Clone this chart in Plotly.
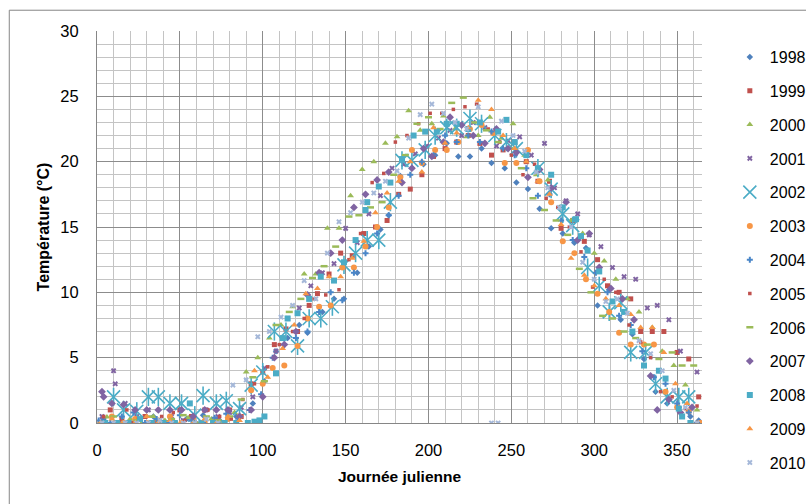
import plotly.graph_objects as go

# ---- data (Julian day, temperature °C) ----
years = ["1998", "1999", "2000", "2001", "2002", "2003", "2004",
         "2005", "2006", "2007", "2008", "2009", "2010"]

days_1998 = [4,14,24,34,44,54,64,74,84,94,101,108,115,122,127,136,143,149,157,164,171,176,183,190,197,204,211,218,225,232,238,246,253,260,267,274,281,288,295,302,309,316,323,330,337,344,351,358,363]
temp_1998 = [0.3,0,0.2,0.5,0,0.3,0.6,0.2,0.5,1.5,3.2,5.5,6.5,7.5,6.9,8.5,9.5,9.5,11.5,13.5,14.8,15.9,18.9,19.5,19.8,20.5,21.4,20.4,20.4,21,19.9,19.5,18.4,17.9,16.4,14.9,14.5,13.8,13.4,9,10.2,7.9,6.8,4.9,2.4,1.5,1.2,0.5,0.2]

days_1999 = [8,15,22,29,36,43,50,57,65,72,80,87,93,100,107,114,121,128,133,140,147,154,161,168,175,182,189,196,203,210,217,224,231,238,245,252,259,266,273,280,287,294,302,308,315,322,328,335,342,350,357,363]
temp_1999 = [1,0.3,0,0.5,0.2,0,1,0.5,1,0.3,1,0.5,3,3.9,6,7.2,7,9,9.9,11.4,13,12.8,14.5,15,15.5,17.5,17.9,19,20.4,21,21.5,22,21.4,20.5,20.9,21.5,20,18.5,18.5,14.9,15.5,13.9,12.5,10.5,10,9.5,7,7,7,5.4,4.9,2]

days_2000 = [6,13,20,27,34,41,48,55,62,69,76,83,90,97,104,111,118,125,132,139,146,153,160,167,174,181,188,195,202,209,216,223,230,237,244,251,258,265,272,279,286,293,300,306,313,320,327,335,341,348,355,362]
temp_2000 = [0.45,0,0.3,0,0.5,0.2,0,0.4,0,0.3,0,0.8,3.9,5,6.5,7.5,8.9,11.4,11.4,14.9,14.9,17.4,19.4,20,21.4,21.9,23.9,22.4,22.9,23.5,22.5,21.9,22,23.4,21.8,22.9,20.5,19,18.6,16.5,15.5,14.5,13,12.4,11,9.5,8.5,7.3,5.5,4.4,2.9,1]

days_2001 = [3,10,11,17,24,31,38,45,52,59,66,73,80,87,94,101,108,115,122,129,136,143,150,157,164,171,178,185,192,199,206,213,220,227,234,241,248,255,262,270,276,283,290,297,304,311,318,325,332,338,345,352,362]
temp_2001 = [0.5,4,3,1.5,0.5,1,0,0.5,0.2,0,1,0.5,0.8,1.2,2,4.2,5.5,8,8.8,10.5,11.5,12.2,14.9,13.8,16,17.4,19.5,19.8,20.6,21.2,21.8,22.4,22,23,22.6,21.2,21.6,21.9,20.5,21.4,18,17,16,14.4,13.5,11.9,11.2,11,8.8,9,7.9,5.5,3.9]

days_2002 = [10,16,24,31,37,44,51,59,64,72,78,86,93,100,107,114,121,128,135,142,149,156,163,170,177,184,190,198,204,211,217,225,232,240,247,253,266,274,281,287,296,303,309,316,322,331,337,344,351,357]
temp_2002 = [2,1,0.9,2,2,1.5,1.5,0.6,2.1,1.5,1.7,1.1,2.9,3.9,7,7,5.9,8,8,8.9,12.1,13,14,14,16.9,20.1,20.1,20.9,22,22.6,22.6,23.3,22.9,22,21.5,21,19.5,17.9,16,15.1,11.9,10.5,8.5,9.2,5.4,5.4,3,2,2,2]

days_2003 = [2,9,16,23,30,37,44,51,58,65,72,79,86,93,100,106,113,121,127,134,141,148,155,162,169,176,183,190,196,204,211,218,225,232,239,246,253,260,267,274,281,288,295,302,309,315,322,330,336,343,350,357,364]
temp_2003 = [0,0.5,0,0.3,0,0.2,0.5,0,0.4,0.1,0,0.3,0.5,2.5,3,4.2,4.4,5.9,8,8.9,9,11.9,11.9,13.5,15,16.5,18.8,20.9,19.9,20.9,20.9,21.5,22.5,22.8,22.2,19.9,19.9,20.9,18.5,16.9,13.9,13,11,9.9,8.5,6.9,6,6,6,2.4,1.2,0.9,0]

days_2004 = [1,8,15,22,29,36,43,50,57,64,71,78,85,92,99,106,113,120,127,134,141,148,155,162,169,176,182,189,196,203,210,217,224,231,238,245,252,259,266,273,280,287,294,301,308,315,322,329,336,343,350,357,362]
temp_2004 = [0.2,0,0.5,0.8,0,0.3,0,0.6,0.2,0,0.4,0.7,0.2,1,2.2,5,6,6.5,7,8.5,10,9.4,11.5,13,14.5,15.9,17.4,19,20,20.5,22,21.5,22,21.5,22.3,21,20.5,19.5,17.4,17.5,15.5,14,12.7,11.5,10,8.2,7.5,5.5,3.5,3,1.5,0.8,0]

days_2005 = [4,11,18,25,32,39,46,53,60,67,74,81,88,95,103,110,118,125,131,138,146,152,159,166,173,180,187,194,201,208,215,222,229,236,243,250,257,264,271,278,285,292,299,306,313,321,328,334,340,347,355,362]
temp_2005 = [0.5,0,1,0.3,0,0.5,0.8,0.2,0,1,0.5,0.3,1.8,3,4.3,6,7,8,9.5,9.8,10.2,12.5,14.5,18.4,19.1,21.5,22,22.9,23.7,23.7,24,24.2,24.4,22.5,21.5,20.5,19,19.8,17.2,16.5,15,13.1,10.4,11,10,7.5,6.2,5,2.4,2,1.1,1.3]

days_2006 = [3,10,17,24,31,38,45,52,59,66,73,80,87,94,101,108,116,123,130,137,144,152,158,165,172,179,186,193,200,207,214,221,228,235,242,249,256,263,270,277,284,291,298,305,311,318,325,332,339,347,353,360]
temp_2006 = [0,0.5,0,0.2,0.5,0,0.3,0.6,0,0.5,0.2,0.5,1.8,3.5,3.2,7.5,8.5,9.5,11.1,12,13.5,15.8,15.9,16.5,16.9,19,20.5,22.9,23.4,22.5,24.5,24.9,23,22.4,21.5,21,19.5,17.2,16.3,15.5,14.4,11.8,10,8.2,8,7,6.5,6,4.9,5.4,4.4,4.4]

days_2007 = [3,4,9,16,23,30,37,44,51,58,65,72,79,86,93,100,107,113,120,127,134,141,148,155,162,169,176,184,190,197,202,209,213,220,227,234,241,248,253,260,267,274,283,290,297,303,310,317,324,334,338,345,352,359]
temp_2007 = [2.4,2,1.5,1.4,1,1,1,1,1,0.5,1,1,1,0.5,1,2,5,6,7,9.8,11.5,13,14,16.5,17.5,18.6,19.2,18.4,19.5,21,20.4,21.5,23.4,22.8,22,21.4,22.5,21,20.7,18.8,19.4,18,16.9,14,14.5,11.9,10.3,9.5,7.9,3.6,1,1.8,0.8,1.2]

days_2008 = [5,12,19,26,33,40,47,56,63,70,77,84,91,95,98,101,108,112,115,121,128,135,143,149,156,162,163,170,177,184,191,198,205,211,217,224,231,242,247,252,259,266,274,281,289,292,296,303,311,318,323,330,339,343,351,353,358]
temp_2008 = [0,0,0,0.3,0,0,0,1.5,0,0,0,0,0,0.1,0.2,0.5,3.8,6.5,8,8.4,9.5,11.2,10.9,12.3,14,16.3,16.9,18.1,18.4,20.2,22,22.3,22.3,22.9,22.9,22.5,23,22.3,23.2,21.5,20.5,19.5,19,16.5,15.6,14.3,13.2,11.6,9.3,8.5,7,4.4,4,3.4,1.1,0.5,0]

days_2009 = [2,9,16,23,30,37,44,51,58,65,72,79,86,95,103,112,119,126,133,140,147,154,161,168,175,182,189,196,203,210,217,224,230,238,245,252,259,266,273,280,286,294,300,307,315,322,328,335,342,349,356,362]
temp_2009 = [0,0.3,0,0,0.5,0,0.2,0,0,0.3,0,0.5,0.2,4,3.5,5.7,7.5,9.9,10.3,11.2,11.2,12.6,13.9,16.1,17.6,18.5,20,19.2,22.6,21.4,22.2,22.6,24.7,24,22,21,20,18.5,17.5,15.2,12.6,11.3,10.5,9.5,9,8.3,7.3,7.3,5.4,3,1.5,0]

days_2010 = [3,10,17,24,31,38,45,52,59,66,73,82,90,97,104,111,118,125,132,139,146,153,160,167,174,181,188,195,202,209,216,223,230,238,242,244,251,258,265,272,279,286,293,300,307,314,320,327,334,341,348,355,362]
temp_2010 = [0,0,0,0,0,0.2,0,0,0,0.3,0,2.9,3.3,6.6,7,8.1,9,10.9,9.5,13,15.4,16.1,16.9,17.6,18.5,19.3,21.8,23.6,24.4,23.7,23,22.5,24.2,0,0,23.1,22,20.8,19.2,18,16.5,15,12.3,11,9.3,9.5,8.4,6.3,5.3,4,2.5,1.2,0]

x_ticks = [0, 50, 100, 150, 200, 250, 300, 350]
y_ticks = [0, 5, 10, 15, 20, 25, 30]

series = {
    "1998": (days_1998, temp_1998), "1999": (days_1999, temp_1999),
    "2000": (days_2000, temp_2000), "2001": (days_2001, temp_2001),
    "2002": (days_2002, temp_2002), "2003": (days_2003, temp_2003),
    "2004": (days_2004, temp_2004), "2005": (days_2005, temp_2005),
    "2006": (days_2006, temp_2006), "2007": (days_2007, temp_2007),
    "2008": (days_2008, temp_2008), "2009": (days_2009, temp_2009),
    "2010": (days_2010, temp_2010),
}

# ---- styles ----
styles = {
    "1998": dict(symbol="diamond", size=5, color="#4F81BD"),
    "1999": dict(symbol="square", size=5, color="#C0504D"),
    "2000": dict(symbol="triangle-up", size=6, color="#9BBB59"),
    "2001": dict(symbol="x", size=5, color="#8064A2"),
    "2002": None,
    "2003": dict(symbol="circle", size=6, color="#F79646"),
    "2004": dict(symbol="cross", size=5, color="#4A86C8"),
    "2005": dict(symbol="square", size=3.5, color="#C0504D"),
    "2006": "dash",
    "2007": dict(symbol="diamond", size=6, color="#8064A2"),
    "2008": dict(symbol="square", size=6, color="#4BACC6"),
    "2009": dict(symbol="triangle-up", size=6, color="#F79646"),
    "2010": dict(symbol="x", size=5, color="#A5B8D9"),
}

FONT = "Liberation Sans"
fig = go.Figure()

for yr in years:
    xs, ys = series[yr]
    st = styles[yr]
    if yr == "2002":
        fig.add_trace(go.Scatter(
            x=xs, y=ys, mode="markers", name=yr, legendgroup=yr,
            marker=dict(symbol="x-thin-open", size=13, color="#4BACC6",
                        line=dict(width=1.6, color="#4BACC6"))))
        fig.add_trace(go.Scatter(
            x=xs, y=ys, mode="markers", name=yr, legendgroup=yr, showlegend=False,
            marker=dict(symbol="line-ns-open", size=13, color="#4BACC6",
                        line=dict(width=1.6, color="#4BACC6"))))
    elif st == "dash":
        fig.add_trace(go.Scatter(
            x=xs, y=ys, mode="markers", name=yr, legendgroup=yr,
            marker=dict(symbol="line-ew-open", size=5, color="#9BBB59",
                        line=dict(width=2.5, color="#9BBB59"))))
    else:
        fig.add_trace(go.Scatter(
            x=xs, y=ys, mode="markers", name=yr, legendgroup=yr,
            marker=dict(symbol=st["symbol"], size=st["size"], color=st["color"],
                        line=dict(width=0))))

axis_common = dict(
    showgrid=True, gridcolor="#8C8C8C", gridwidth=1,
    showline=True, linecolor="#868686", linewidth=1,
    zeroline=False, ticks="",
    tickfont=dict(family=FONT, size=16.5, color="#000000"),
)

fig.update_xaxes(
    range=[0, 365], tickvals=x_ticks,
    minor=dict(dtick=10, showgrid=True, gridcolor="#C4C4C4", gridwidth=1),
    title=dict(text="<b>Journée julienne</b>", standoff=13,
               font=dict(family=FONT, size=15.5, color="#000000")),
    ticklabelstandoff=12,
    **axis_common)
fig.update_yaxes(
    range=[0, 30], tickvals=y_ticks,
    minor=dict(dtick=1, showgrid=True, gridcolor="#C4C4C4", gridwidth=1),
    title=dict(text="<b>Température (°C)</b>", standoff=6,
               font=dict(family=FONT, size=16, color="#000000")),
    ticklabelstandoff=14,
    **axis_common)

fig.update_layout(
    width=806, height=504,
    margin=dict(l=97, r=104, t=31, b=81, autoexpand=False),
    paper_bgcolor="white", plot_bgcolor="white",
    font=dict(family=FONT, size=16, color="#000000"),
    legend=dict(x=1.046, y=0.977, xanchor="left", yanchor="top",
                font=dict(family=FONT, size=16, color="#000000"),
                tracegroupgap=10, itemsizing="trace", maxheight=470,
                bgcolor="rgba(0,0,0,0)"),
    shapes=[dict(type="rect", xref="paper", yref="paper",
                 x0=-0.145, y0=1.053, x1=1.6, y1=-0.6,
                 line=dict(color="#868686", width=1), layer="below")],
)

# remove the default 8 px page margin so the 806x504 figure fills the window
fig.write_html("out.html",
               config={"displayModeBar": False},
               post_script="document.body.style.margin='0';"
                           "document.body.style.overflow='hidden';")
